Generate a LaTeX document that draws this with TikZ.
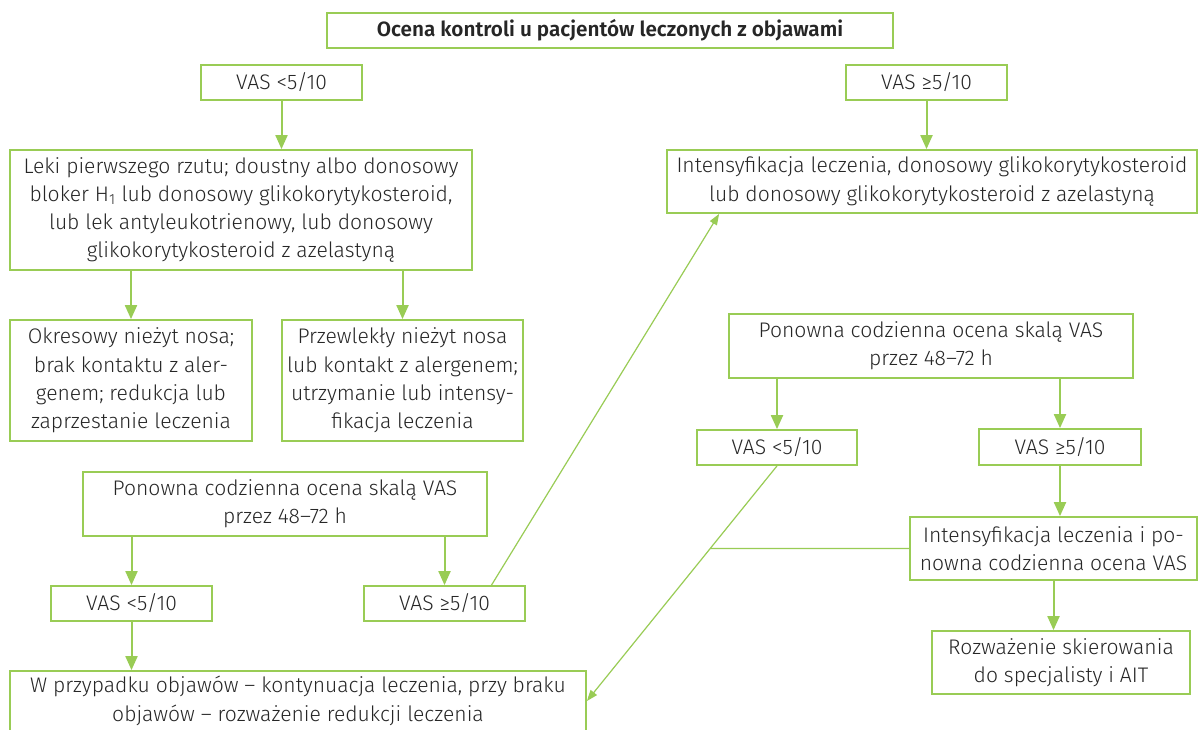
\documentclass[tikz,border=0pt]{standalone}
\usepackage{fontspec}
\setmainfont{Fira Sans Light}[BoldFont={Fira Sans SemiBold}]
\usetikzlibrary{arrows.meta,calc,intersections}
\definecolor{grn}{RGB}{153,204,85}
\definecolor{txt}{RGB}{38,38,38}
\begin{document}
\begin{tikzpicture}[x=1pt,y=-1pt,
  box/.style={draw=grn, line width=1.8pt, text=txt, align=center, inner sep=0pt,
    font=\fontsize{21.1}{28.3}\selectfont},
  titlebox/.style={box, font=\bfseries\fontsize{20.7}{24}\selectfont},
  arr/.style={draw=grn, line width=2pt, -{Triangle[length=14pt,width=12pt]}},
  thinarr/.style={draw=grn, line width=1.2pt, -{Triangle[length=11pt,width=8pt]}},
  thinln/.style={draw=grn, line width=1.2pt}]
\useasboundingbox (0,0) rectangle (1198,729);
\fill[white] (0,0) rectangle (1198,729);

% top
\node[titlebox, minimum width=566pt, minimum height=35pt] (title) at (610,30.5)
  {Ocena kontroli u pacjentów leczonych z objawami};
\node[box, minimum width=161pt, minimum height=35pt] (vasA) at (281.5,82.5) {VAS <5/10};
\node[box, minimum width=161pt, minimum height=35pt] (vasB) at (926.5,82.5) {VAS ≥5/10};

% left column
\node[box, minimum width=462pt, minimum height=120pt] (leki) at (241,210)
  {Leki pierwszego rzutu; doustny albo donosowy\\
   bloker H\textsubscript{1} lub donosowy glikokorytykosteroid,\\
   lub lek antyleukotrienowy, lub donosowy\\
   glikokorytykosteroid z azelastyną};
\node[box, minimum width=242pt, minimum height=121pt] (okres) at (131,380.5)
  {Okresowy nieżyt nosa;\\ brak kontaktu z aler-\\ genem; redukcja lub\\ zaprzestanie leczenia};
\node[box, minimum width=241pt, minimum height=121pt] (przew) at (402.5,380.5)
  {Przewlekły nieżyt nosa\\ lub kontakt z alergenem;\\ utrzymanie lub intensy-\\ fikacja leczenia};
\node[box, minimum width=404pt, minimum height=64pt] (pon1) at (285,504)
  {Ponowna codzienna ocena skalą VAS\\ przez 48--72 h};
\node[box, minimum width=161pt, minimum height=35pt] (vasC) at (131.5,603.5) {VAS <5/10};
\node[box, minimum width=161pt, minimum height=35pt] (vasD) at (444.5,603.5) {VAS ≥5/10};
\node[box, minimum width=576pt, minimum height=60pt] (wbox) at (298,701)
  {W przypadku objawów -- kontynuacja leczenia, przy braku\\
   objawów -- rozważenie redukcji leczenia};

% right column
\node[box, minimum width=530pt, minimum height=63pt] (intA) at (932,181.5)
  {Intensyfikacja leczenia, donosowy glikokorytykosteroid\\
   lub donosowy glikokorytykosteroid z azelastyną};
\node[box, minimum width=404pt, minimum height=64pt] (pon2) at (931,346)
  {Ponowna codzienna ocena skalą VAS\\ przez 48--72 h};
\node[box, minimum width=160pt, minimum height=35pt] (vasE) at (777,447.5) {VAS <5/10};
\node[box, minimum width=162pt, minimum height=36pt] (vasF) at (1060,447) {VAS ≥5/10};
\node[box, minimum width=287pt, minimum height=63pt] (int2) at (1053.5,548.5)
  {Intensyfikacja leczenia i po-\\ nowna codzienna ocena VAS};
\node[box, minimum width=258pt, minimum height=63pt] (rozw) at (1061,662.5)
  {Rozważenie skierowania\\ do specjalisty i AIT};

% vertical arrows
\draw[arr] (vasA.south) -- (vasA.south |- leki.north);
\draw[arr] (vasB.south) -- (vasB.south |- intA.north);
\draw[arr] (okres.north |- leki.south) -- (okres.north);
\draw[arr] (przew.north |- leki.south) -- (przew.north);
\draw[arr] (vasC.north |- pon1.south) -- (vasC.north);
\draw[arr] (vasD.north |- pon1.south) -- (vasD.north);
\draw[arr] (vasC.south) -- (vasC.south |- wbox.north);
\draw[arr] (vasE.north |- pon2.south) -- (vasE.north);
\draw[arr] (vasF.north |- pon2.south) -- (vasF.north);
\draw[arr] (vasF.south) -- (vasF.south |- int2.north);
\draw[arr] (int2.south) -- (int2.south |- rozw.north);

% diagonal connectors
\coordinate (dS) at ($(vasD.north)+(47,0)$);
\coordinate (dE) at ($(intA.south west)+(53,0)$);
\draw[thinarr] (dS) -- (dE);
\draw[thinarr, name path=diagE] (vasE.south) -- (wbox.east);
\path[name path=horz] (int2.west) -- ++(-400,0);
\path[name intersections={of=diagE and horz, by={J}}];
\draw[thinln] (int2.west) -- (J);
\end{tikzpicture}
\end{document}
